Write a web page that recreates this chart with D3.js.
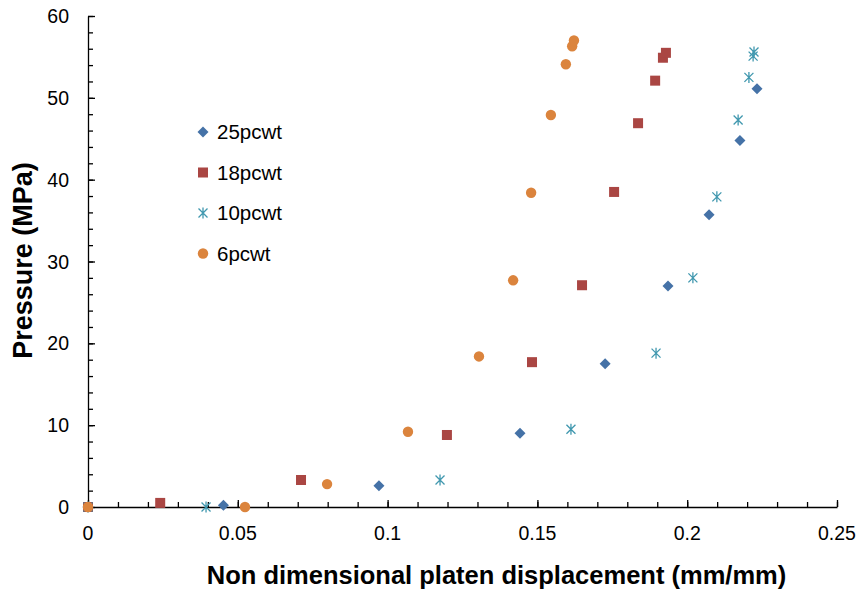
<!DOCTYPE html>
<html>
<head>
<meta charset="utf-8">
<script src="https://cdn.jsdelivr.net/npm/d3@7"></script>
<style>
  body { margin: 0; background: #fff; }
  text { font-family: "Liberation Sans", Arial, sans-serif; fill: #000; }
</style>
</head>
<body>
<div id="chart"></div>
<script>
const seriesNames = ["25pcwt", "18pcwt", "10pcwt", "6pcwt"];

const disp25 = [0, 0.0452, 0.0971, 0.1442, 0.1726, 0.1936, 0.2073, 0.2176, 0.2233];
const pres25 = [0, 0.2, 2.6, 9.0, 17.5, 27.0, 35.7, 44.8, 51.1];

const disp18 = [0, 0.0241, 0.0711, 0.1198, 0.1482, 0.1649, 0.1756, 0.1836, 0.1893, 0.1919, 0.1929];
const pres18 = [0, 0.5, 3.3, 8.8, 17.7, 27.1, 38.5, 46.9, 52.1, 54.9, 55.5];

const disp10 = [0, 0.0394, 0.1175, 0.1612, 0.1896, 0.2019, 0.2099, 0.2170, 0.2206, 0.2220, 0.2223];
const pres10 = [0, 0.0, 3.3, 9.5, 18.8, 28.0, 37.9, 47.3, 52.5, 55.1, 55.6];

const disp6 = [0, 0.0524, 0.0798, 0.1068, 0.1305, 0.1419, 0.1479, 0.1545, 0.1595, 0.1616, 0.1622];
const pres6 = [0, 0.0, 2.8, 9.2, 18.4, 27.7, 38.4, 47.9, 54.1, 56.3, 57.0];

const xTicks = [0, 0.05, 0.1, 0.15, 0.2, 0.25];
const yTicks = [0, 10, 20, 30, 40, 50, 60];

const colors = ["#4572A7", "#AA4643", "#4198AF", "#DB843D"];

const series = [
  { name: seriesNames[0], xs: disp25, ys: pres25, color: colors[0], shape: "diamond" },
  { name: seriesNames[1], xs: disp18, ys: pres18, color: colors[1], shape: "square" },
  { name: seriesNames[2], xs: disp10, ys: pres10, color: colors[2], shape: "star" },
  { name: seriesNames[3], xs: disp6, ys: pres6, color: colors[3], shape: "circle" }
];

const W = 861, H = 590;
const margin = { top: 16, right: 24, bottom: 83, left: 88 };
const width = W - margin.left - margin.right;
const height = H - margin.top - margin.bottom;

const x = d3.scaleLinear().domain([0, 0.25]).range([0, width]);
const y = d3.scaleLinear().domain([0, 60]).range([height, 0]);

const svg = d3.select("#chart").append("svg")
    .attr("width", W)
    .attr("height", H)
  .append("g")
    .attr("transform", `translate(${margin.left},${margin.top})`);

// draw one marker of a given shape centred on 0,0
function drawMarker(g, shape, color) {
  if (shape === "diamond") {
    g.append("path").attr("d", "M0,-5.5L5.5,0L0,5.5L-5.5,0Z").attr("fill", color);
  } else if (shape === "square") {
    g.append("rect").attr("x", -5).attr("y", -5).attr("width", 10).attr("height", 10).attr("fill", color);
  } else if (shape === "circle") {
    g.append("circle").attr("r", 5.2).attr("fill", color);
  } else {
    const p = "M-4.5,-4.5L4.5,4.5M-4.5,4.5L4.5,-4.5M0,-5.5L0,5.5";
    g.append("path").attr("d", p).attr("stroke", color).attr("stroke-width", 1.3).attr("fill", "none");
  }
}

// axes: ticks inside the plot, minor ticks too
const xMinor = d3.range(0, 0.2501, 0.01);
const yMinor = d3.range(0, 60.01, 2);

svg.append("g")
    .attr("transform", `translate(0,${height})`)
    .call(d3.axisTop(x).tickValues(xMinor).tickSize(5).tickFormat(""))
    .call(g => g.select(".domain").remove());

svg.append("g")
    .attr("transform", `translate(0,${height})`)
    .call(d3.axisTop(x).tickValues(xTicks).tickSize(7).tickFormat("").tickSizeOuter(0));

svg.append("g")
    .call(d3.axisRight(y).tickValues(yMinor).tickSize(5).tickFormat(""))
    .call(g => g.select(".domain").remove());

svg.append("g")
    .call(d3.axisRight(y).tickValues(yTicks).tickSize(7).tickFormat("").tickSizeOuter(0));

svg.selectAll(".domain, .tick line").attr("stroke", "#000").attr("stroke-width", 1.3);

svg.selectAll(".xlab")
    .data(xTicks)
    .enter().append("text")
    .attr("x", d => x(d))
    .attr("y", height + 33)
    .attr("text-anchor", "middle")
    .style("font-size", "19.5px")
    .text(d => d);

svg.selectAll(".ylab")
    .data(yTicks)
    .enter().append("text")
    .attr("x", -19)
    .attr("y", d => y(d) + 7)
    .attr("text-anchor", "end")
    .style("font-size", "19.5px")
    .text(d => d);

// points
series.forEach(s => {
  s.xs.forEach((v, i) => {
    const g = svg.append("g").attr("transform", `translate(${x(v)},${y(s.ys[i])})`);
    drawMarker(g, s.shape, s.color);
  });
});

// legend
const legend = svg.selectAll(".legend")
    .data(series)
    .enter().append("g")
    .attr("class", "legend")
    .attr("transform", (d, i) => `translate(${203 - margin.left},${132 - margin.top + i * 40.5})`);

legend.each(function(d) { drawMarker(d3.select(this), d.shape, d.color); });

legend.append("text")
    .attr("x", 14)
    .attr("y", 7)
    .style("font-size", "20.5px")
    .text(d => d.name);

// axis titles
svg.append("text")
    .attr("x", width / 2 + 34)
    .attr("y", height + 77)
    .attr("text-anchor", "middle")
    .style("font-size", "25.5px")
    .style("font-weight", "bold")
    .text("Non dimensional platen displacement (mm/mm)");

svg.append("text")
    .attr("transform", `translate(${32 - margin.left},${height / 2 - 1}) rotate(-90)`)
    .attr("text-anchor", "middle")
    .style("font-size", "27px")
    .style("font-weight", "bold")
    .text("Pressure (MPa)");
</script>
</body>
</html>
